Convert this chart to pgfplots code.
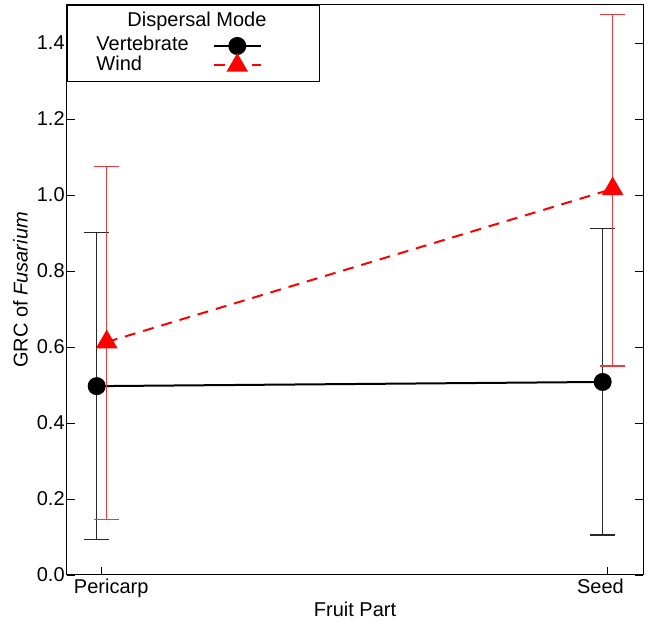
\documentclass[border=0pt]{standalone}
\usepackage{fontspec}
\setmainfont{Liberation Sans}
\usepackage{pgfplots}
\pgfplotsset{compat=1.18}
\definecolor{errred}{RGB}{230,60,60}
\definecolor{errblack}{RGB}{40,40,40}
\begin{document}
\begin{tikzpicture}[font=\fontsize{20}{23}\selectfont]
\begin{axis}[
  scale only axis, width=576.6pt, height=570pt,
  xmin=-0.0692, xmax=1.0704, ymin=0, ymax=1.5,
  xtick={0,1}, xticklabels={\mbox{\kern19pt Pericarp}, \mbox{Seed\kern14.4pt}},
  ytick={0,0.2,0.4,0.6,0.8,1.0,1.2,1.4},
  yticklabel style={xshift=1.5pt, /pgf/number format/.cd, fixed, fixed zerofill, precision=1, assume math mode=true},
  tick align=inside, xtick pos=left, ytick pos=both,
  major tick length=8pt, tick style={black, line width=0.8pt},
  axis line style={line width=1pt},
  xlabel={Fruit Part}, ylabel={GRC of \textit{Fusarium}},
  every axis x label/.style={at={(axis description cs:0.5,0)}, anchor=base, yshift=-41.7pt},
  every axis y label/.style={at={(axis description cs:0,0.5)}, anchor=center, rotate=90, yshift=46.2pt},
  clip=false,
  legend style={at={(0,1)}, anchor=north west, draw=black, line width=1pt,
    legend cell align=left, inner xsep=26.3pt, inner ysep=7.5pt, row sep=0pt, column sep=0pt,
    nodes={inner ysep=1pt, inner xsep=3pt, text height=13pt, text depth=3pt}},
  legend plot pos=right,
  legend image code/.code={
    \draw[mark repeat=2, mark phase=2, #1] plot coordinates {(22pt,0pt) (45.5pt,0pt) (69pt,0pt)};
    \path[draw=none, fill=none] (0pt,0pt) -- (101pt,0pt);
  },
]
\addlegendimage{empty legend}
\addlegendentry[text depth=9pt]{\makebox[0pt][l]{\hspace{31pt}Dispersal Mode}}

% Vertebrate
\addplot[black, line width=2pt, mark=*, mark size=8pt, mark options={solid, fill=black},
  error bars/.cd, y dir=both, y explicit,
  error bar style={errblack, line width=1.2pt}, error mark options={errblack, line width=1.2pt, rotate=90, mark size=12.5pt}]
  coordinates {
    (-0.0099,0.497) += (0,0.404) -= (0,0.403)
    (0.9901,0.508) += (0,0.404) -= (0,0.403)
  };
\addlegendentry{Vertebrate}

% Wind
\addplot[red, line width=2pt, dash pattern=on 11pt off 8pt, mark=triangle*, mark size=10.5pt, mark options={solid, fill=red},
  error bars/.cd, y dir=both, y explicit,
  error bar style={errred, line width=1.2pt, solid}, error mark options={errred, line width=1.2pt, solid, rotate=90, mark size=12.5pt}]
  coordinates {
    (0.0099,0.613) += (0,0.461) -= (0,0.466)
    (1.0099,1.016) += (0,0.458) -= (0,0.466)
  };
\addlegendentry{Wind}

\coordinate (ne) at (rel axis cs:1,1);
\coordinate (sw) at (rel axis cs:0,0);
\end{axis}
\path (ne) ++(14.7pt,5pt);
\path (sw) ++(-66.7pt,-48pt);
\end{tikzpicture}
\end{document}
